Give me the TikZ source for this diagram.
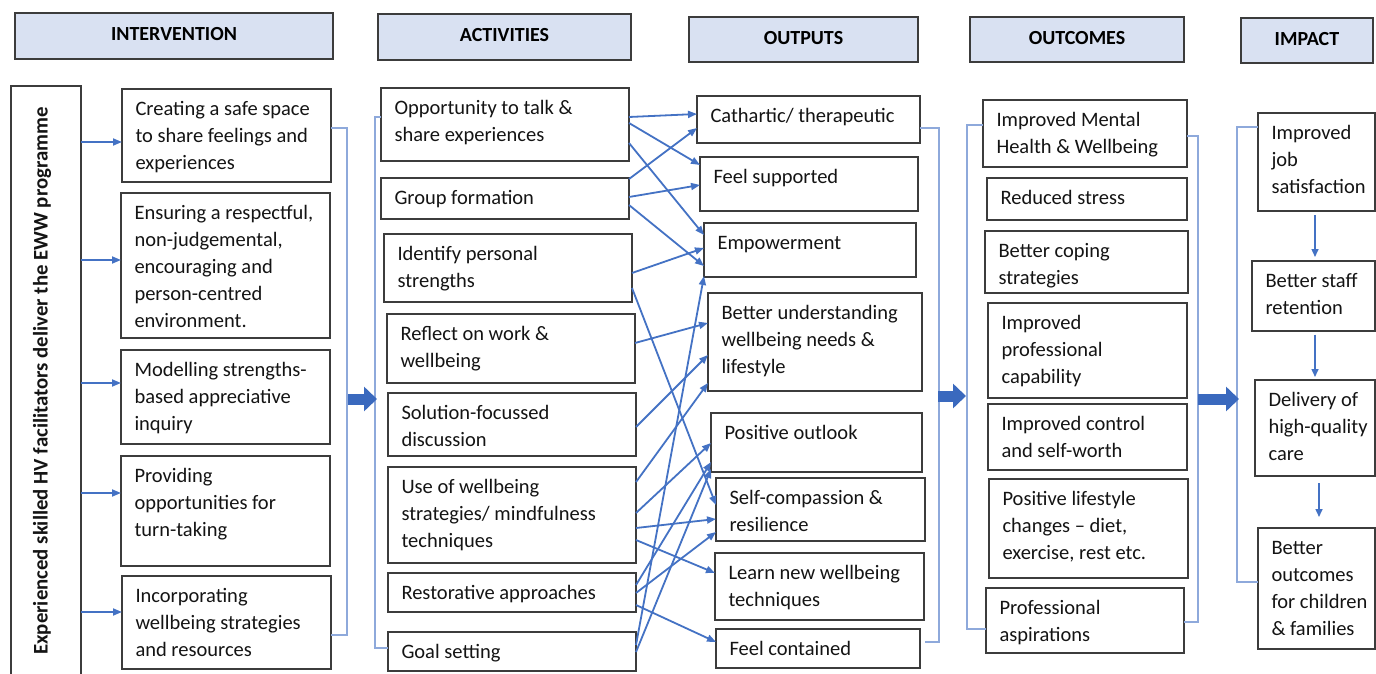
\documentclass[tikz,border=0pt]{standalone}
\usepackage{fontspec}
\setmainfont{Carlito}
\usetikzlibrary{arrows.meta}

\definecolor{hdrfill}{HTML}{D9E1F2}
\definecolor{edgegray}{HTML}{3C3C3C}
\definecolor{linkblue}{HTML}{4472C4}
\definecolor{braceblue}{HTML}{8EA9DB}
\definecolor{bigblue}{HTML}{3A69BE}

% framed box with top-left aligned text: name, x1, y1, x2, y2, text
\newcommand\panel[6]{%
  \node[frame, minimum width={(#4)-(#2)}, minimum height={(#5)-(#3)}] (#1) at ({((#2)+(#4))/2},{((#3)+(#5))/2}) {};
  \node[txt] (#1-text) at ({(#2)+13.5},{(#3)+7.6}) {\strut#6};
}
% column header: name, x1, y1, x2, y2, text
\newcommand\headpanel[6]{%
  \node[hdr, minimum width={(#4)-(#2)}, minimum height={(#5)-(#3)}] (#1) at ({((#2)+(#4))/2},{((#3)+(#5))/2}) {#6};
}

\begin{document}
\begin{tikzpicture}[x=1pt,y=-1pt,
  frame/.style={draw=edgegray, line width=1.4pt, fill=white, inner sep=0pt, outer sep=0pt},
  hdr/.style={frame, fill=hdrfill, text depth=4pt, font=\fontsize{20}{24}\selectfont\bfseries},
  txt/.style={inner sep=0pt, outer sep=0pt, anchor=north west, align=left, text=black!92, font=\fontsize{20.5}{27}\selectfont},
  link/.style={draw=linkblue, line width=1.8pt, -{Triangle[length=9pt,width=7pt]}},
  smalllink/.style={draw=linkblue, line width=1.5pt, -{Triangle[length=8pt,width=7pt]}},
  bracket/.style={draw=braceblue, line width=1.1pt},
  bigarrow/.style={draw=bigblue, line width=11pt, -{Triangle[length=13pt,width=24pt]}},
]
\fill[white] (0,0) rectangle (1376,674);
\useasboundingbox (0,0) rectangle (1376,674);

% column headers
\headpanel{hint}{15}{13}{333}{59}{INTERVENTION}
\headpanel{hact}{378}{14}{631}{60}{ACTIVITIES}
\headpanel{hout}{689}{17}{918}{62}{OUTPUTS}
\headpanel{hoc}{970}{17}{1184}{62}{OUTCOMES}
\headpanel{himp}{1241}{18}{1373}{63}{IMPACT}

% delivery box
\node[frame, minimum width=70, minimum height=600] (lb) at (46,386) {};
\node[rotate=90, inner sep=0pt, text=black!92, font=\fontsize{20.8}{24}\selectfont\bfseries] (lbtext) at (42,381)
  {Experienced skilled HV facilitators deliver the EWW programme};

% intervention
\panel{i1}{122}{89}{331}{182}{Creating a safe space\\to share feelings and\\experiences}
\panel{i2}{121}{193}{330}{338}{Ensuring a respectful,\\non-judgemental,\\encouraging and\\person-centred\\environment.}
\panel{i3}{121}{350}{330}{444}{Modelling strengths-\\based appreciative\\inquiry}
\panel{i4}{121}{456}{330}{566}{Providing\\opportunities for\\turn-taking}
\panel{i5}{122}{576}{331}{669}{Incorporating\\wellbeing strategies\\and resources}

% activities
\panel{a1}{381}{88}{629}{161}{Opportunity to talk \&\\share experiences}
\panel{a2}{381}{178}{629}{219}{Group formation}
\panel{a3}{384}{234}{632}{302}{Identify personal\\strengths}
\panel{a4}{387}{314}{635}{383}{Reflect on work \&\\wellbeing}
\panel{a5}{388}{393}{636}{456}{Solution-focussed\\discussion}
\panel{a6}{388}{467}{636}{563}{Use of wellbeing\\strategies/ mindfulness\\techniques}
\panel{a7}{388}{573}{636}{612}{Restorative approaches}
\panel{a8}{388}{632}{636}{671}{Goal setting}

% outputs
\panel{o1}{697}{96}{920}{143}{Cathartic/ therapeutic}
\panel{o2}{700}{157}{918}{211}{Feel supported}
\panel{o3}{704}{223}{916}{277}{Empowerment}
\panel{o4}{708}{293}{922}{391}{Better understanding\\wellbeing needs \&\\lifestyle}
\panel{o5}{711}{413}{922}{472}{Positive outlook}
\panel{o6}{716}{478}{925}{541}{Self-compassion \&\\resilience}
\panel{o7}{715}{553}{924}{620}{Learn new wellbeing\\techniques}
\panel{o8}{716}{629}{920}{668}{Feel contained}

% outcomes
\panel{u1}{983}{100}{1187}{167}{Improved Mental\\Health \& Wellbeing}
\panel{u2}{987}{178}{1187}{220}{Reduced stress}
\panel{u3}{985}{231}{1188}{293}{Better coping\\strategies}
\panel{u4}{988}{303}{1187}{398}{Improved\\professional\\capability}
\panel{u5}{988}{404}{1187}{470}{Improved control\\and self-worth}
\panel{u6}{989}{479}{1188}{578}{Positive lifestyle\\changes – diet,\\exercise, rest etc.}
\panel{u7}{986}{588}{1184}{653}{Professional\\aspirations}

% impact
\panel{p1}{1258}{113}{1375}{211}{Improved\\job\\satisfaction}
\panel{p2}{1252}{261}{1375}{331}{Better staff\\retention}
\panel{p3}{1255}{380}{1375}{476}{Delivery of\\high-quality\\care}
\panel{p4}{1258}{528}{1375}{649}{Better\\outcomes\\for children\\\& families}

% delivery box to each intervention
\draw[link] (lb.east |- 0,142) -- (i1.west |- 0,142);
\draw[link] (lb.east |- 0,260) -- (i2.west |- 0,260);
\draw[link] (lb.east |- 0,383) -- (i3.west |- 0,383);
\draw[link] (lb.east |- 0,493) -- (i4.west |- 0,493);
\draw[link] (lb.east |- 0,612) -- (i5.west |- 0,612);

% column brackets
\draw[bracket] (i1.east |- 0,128) -- (347,128) -- (347,635) -- (i5.east |- 0,635);
\draw[bracket] (a1.west |- 0,117) -- (375,117) -- (375,648) -- (a8.west |- 0,648);
\draw[bracket] (o1.east |- 0,128) -- (939,128) -- (939,642) -- (925,642);
\draw[bracket] (u1.west |- 0,125) -- (967,125) -- (967,629) -- (u7.west |- 0,629);
\draw[bracket] (u1.east |- 0,136) -- (1198,136) -- (1198,622) -- (u7.east |- 0,622);
\draw[bracket] (p1.west |- 0,127) -- (1237,127) -- (1237,582) -- (p4.west |- 0,582);

% block arrows between columns
\coordinate (ba1s) at (348,399);
\coordinate (ba1e) at (377,399);
\coordinate (ba2s) at (938,396);
\coordinate (ba2e) at (966,396);
\coordinate (ba3s) at (1198,399);
\coordinate (ba3e) at (1239,399);
\draw[bigarrow] (ba1s) -- (ba1e);
\draw[bigarrow] (ba2s) -- (ba2e);
\draw[bigarrow] (ba3s) -- (ba3e);

% activities to outputs
\draw[link] (a1.east |- 0,117) -- (o1.west |- 0,114);
\draw[link] (a1.east |- 0,123) -- (o2.west |- 0,165);
\draw[link] (a1.east |- 0,143) -- (o3.west |- 0,235);
\draw[link] (a2.east |- 0,179) -- (o1.west |- 0,128);
\draw[link] (a2.east |- 0,197) -- (o2.west |- 0,185);
\draw[link] (a2.east |- 0,205) -- (o3.west |- 0,266);
\draw[link] (a3.east |- 0,273) -- (o3.west |- 0,248);
\draw[link] (a3.east |- 0,288) -- (o6.west |- 0,505);
\draw[link] (a4.east |- 0,343) -- (o4.west |- 0,323);
\draw[link] (a5.east |- 0,427) -- (o4.west |- 0,355);
\draw[link] (a6.east |- 0,482) -- (o4.west |- 0,383);
\draw[link] (a6.east |- 0,513) -- (o5.west |- 0,443);
\draw[link] (a6.east |- 0,528) -- (o6.west |- 0,519);
\draw[link] (a6.east |- 0,540) -- (o7.west |- 0,573);
\draw[link] (a7.east |- 0,585) -- (o5.west |- 0,462);
\draw[link] (a7.east |- 0,593) -- (o6.west |- 0,532);
\draw[link] (a7.east |- 0,605) -- (o8.west |- 0,642);
\draw[link] (a8.east |- 0,645) -- (o3.west |- 0,276);
\draw[link] (a8.east |- 0,652) -- (o5.west |- 0,469);

% impact chain
\draw[smalllink, shorten <=4pt, shorten >=4pt] (p1.south -| 1315,0) -- (p2.north -| 1315,0);
\draw[smalllink, shorten <=3.5pt, shorten >=3pt] (p2.south -| 1315,0) -- (p3.north -| 1315,0);
\draw[smalllink, shorten <=7pt, shorten >=11pt] (p3.south -| 1319,0) -- (p4.north -| 1319,0);
\end{tikzpicture}
\end{document}
